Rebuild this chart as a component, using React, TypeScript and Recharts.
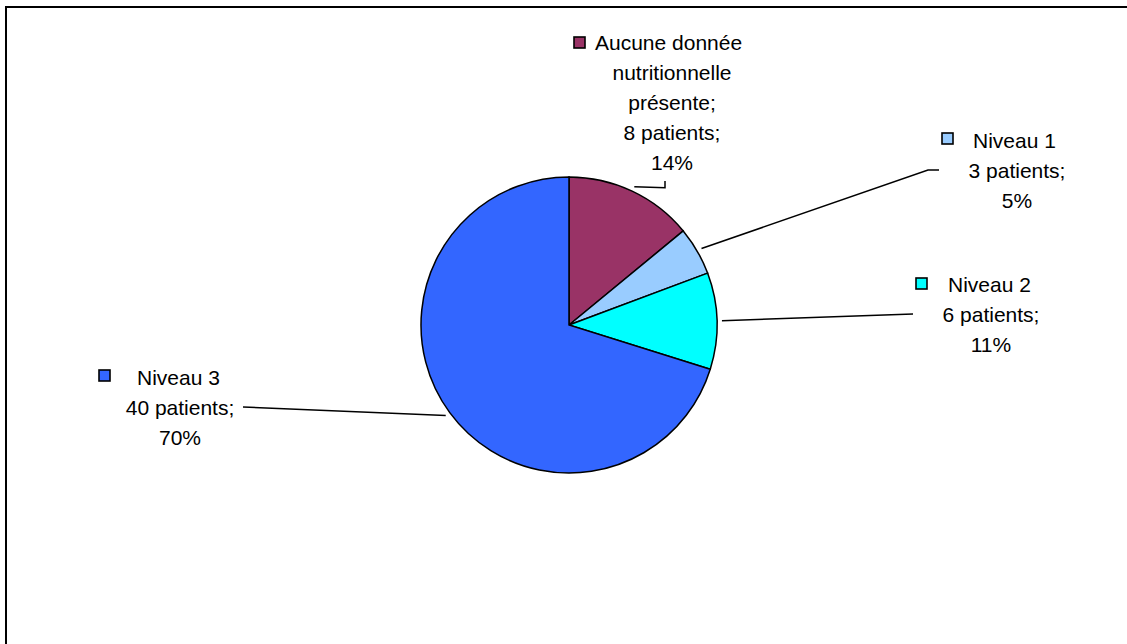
import React, { useEffect } from "react";
import { PieChart, Pie, Cell } from "recharts";

const categories = ["Aucune donnée nutritionnelle présente", "Niveau 1", "Niveau 2", "Niveau 3"];
const categoryLines = [
  ["Aucune donnée", "nutritionnelle", "présente;"],
  ["Niveau 1"],
  ["Niveau 2"],
  ["Niveau 3"],
];
const patients = [8, 3, 6, 40];
const colors = ["#993366", "#99CCFF", "#00FFFF", "#3366FF"];

const data = categories.map((c, i) => ({ name: c, value: patients[i] }));
const total = patients.reduce((a, b) => a + b, 0);

// label layout, offsets relative to pie centre
const layouts = [
  { box: [5, -288], first: [26, -283], center: 103, elbow: [96, 0], end: [96, -144], elbowSameY: true },
  { box: [373, -192], first: [404, -185], center: 448, elbow: [359, -155], end: [370, -155], elbowSameY: false },
  { box: [347, -47], first: [379, -41], center: 422, elbow: null, end: [344, -11], elbowSameY: false },
  { box: [-470, 45], first: [-432, 52], center: -389, elbow: null, end: [-326, 82], elbowSameY: false },
];

const RAD = Math.PI / 180;
const FONT = "'Liberation Sans', Arial, sans-serif";

const renderLabel = (props: any) => {
  const { cx, cy, midAngle, outerRadius, index, value } = props;
  const L = layouts[index];
  const sx = cx + (outerRadius + 5) * Math.cos(-midAngle * RAD);
  const sy = cy + (outerRadius + 5) * Math.sin(-midAngle * RAD);
  const pts: number[][] = [[sx, sy]];
  if (L.elbowSameY) {
    pts.push([cx + L.elbow![0], sy + 1]);
    pts.push([cx + L.end[0], cy + L.end[1]]);
  } else if (L.elbow) {
    pts.push([cx + L.elbow[0], cy + L.elbow[1]]);
    pts.push([cx + L.end[0], cy + L.end[1]]);
  } else {
    pts.push([cx + L.end[0], cy + L.end[1]]);
  }
  const pct = Math.round((value / total) * 100);
  const nameLines = categoryLines[index];
  const lines = [...nameLines, `${value} patients;`, `${pct}%`];
  const firstY = cy + L.first[1];
  return (
    <g key={`lbl-${index}`}>
      <polyline
        points={pts.map((p) => p.join(",")).join(" ")}
        fill="none"
        stroke="#000"
        strokeWidth={1.5}
      />
      <rect
        x={cx + L.box[0]}
        y={cy + L.box[1]}
        width={11}
        height={11}
        fill={colors[index]}
        stroke="#000"
        strokeWidth={1.6}
      />
      {lines.map((t, k) => (
        <text
          key={k}
          x={k === 0 ? cx + L.first[0] : cx + L.center}
          y={firstY + k * 30}
          textAnchor={k === 0 ? "start" : "middle"}
          dominantBaseline="central"
          fontSize={21}
          fontFamily={FONT}
          fill="#000"
        >
          {t}
        </text>
      ))}
    </g>
  );
};

export default function App() {
  useEffect(() => {
    document.body.style.margin = "0";
    document.body.style.overflow = "hidden";
    document.documentElement.style.overflow = "hidden";
  }, []);
  return (
    <div
      style={{
        position: "fixed",
        left: 0,
        top: 0,
        width: 1127,
        height: 644,
        overflow: "hidden",
        background: "#fff",
      }}
    >
      <div
        style={{
          position: "absolute",
          left: 5,
          top: 6,
          width: 1122,
          height: 638,
          borderTop: "2px solid #000",
          borderLeft: "2px solid #000",
        }}
      />
      <div style={{ position: "absolute", left: 0, top: 0 }}>
        <PieChart width={1127} height={644} margin={{ top: 0, right: 0, bottom: 0, left: 0 }}>
          <Pie
            data={data}
            dataKey="value"
            nameKey="name"
            cx={569}
            cy={325}
            outerRadius={148}
            startAngle={90}
            endAngle={-270}
            stroke="#000"
            strokeWidth={1.5}
            isAnimationActive={false}
            labelLine={false}
            label={renderLabel}
          >
            {data.map((d, i) => (
              <Cell key={i} fill={colors[i]} stroke="#000" strokeWidth={1.5} />
            ))}
          </Pie>
        </PieChart>
      </div>
    </div>
  );
}
